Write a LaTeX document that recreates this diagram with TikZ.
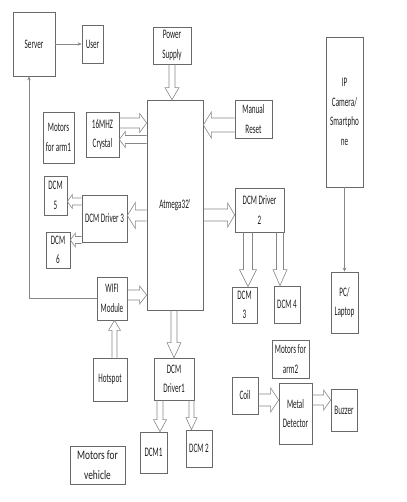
\documentclass[tikz,border=0pt]{standalone}
\usepackage{fontspec}
\setmainfont[FakeStretch=0.55]{Carlito}
\newfontfamily\widefont[FakeStretch=0.72]{Carlito}
\usetikzlibrary{calc,arrows.meta}
\definecolor{bdboxline}{RGB}{105,105,105}
\definecolor{bdarrow}{RGB}{135,135,135}
\definecolor{bdtext}{RGB}{30,30,30}
\tikzset{
  box/.style={
    draw=bdboxline, line width=0.7pt, align=center, inner sep=0pt,
    text=bdtext, font=\fontsize{13pt}{19.5pt}\selectfont
  },
  ar/.style={-{Stealth[length=4pt,width=3.5pt]}, draw=bdarrow, line width=0.6pt},
  % hollow block arrow: shaft half width, head half width, head length
  fat/.style n args={3}{
    draw=bdarrow, line width=0.6pt,
    to path={let \p1=(\tikztostart), \p2=(\tikztotarget),
      \n1={atan2(\y2-\y1,\x2-\x1)}, \n2={veclen(\x2-\x1,\y2-\y1)} in
      [shift={(\p1)}, rotate=\n1]
      (0pt,#1) -- ({\n2*1pt-#3},#1) -- ({\n2*1pt-#3},#2) -- ({\n2*1pt},0pt)
      -- ({\n2*1pt-#3},-#2) -- ({\n2*1pt-#3},-#1) -- (0pt,-#1)}
  },
}
\begin{document}
\begin{tikzpicture}[x=1pt,y=-1pt]
  \useasboundingbox (0,0) rectangle (406,502);

  % ===== top row =====
  \node[box, minimum width=42pt, minimum height=64pt] (server) at (34,44) {Server};
  \node[box, minimum width=21pt, minimum height=38pt] (user) at (92.5,44) {User};
  \node[box, minimum width=38pt, minimum height=37pt] (pwr) at (172,45.5) {Power\\Supply};
  \node[box, minimum width=37pt, minimum height=150pt] (cam) at (344.5,112) {IP\\Camera/\\Smartpho\\ne};

  % ===== controller and its inputs =====
  \node[box, minimum width=56pt, minimum height=210pt] (mcu) at (175,205) {Atmega32'};
  \node[box, minimum width=31pt, minimum height=51pt] (arm1) at (58.5,137.5) {Motors\\for arm1};
  \node[box, minimum width=33pt, minimum height=45pt] (xtal) at (102.5,134.5) {16MHZ\\Crystal};
  \node[box, minimum width=37pt, minimum height=38pt] (reset) at (253.5,119) {Manual\\Reset};

  % ===== driver 3 on the left =====
  \node[box, minimum width=23pt, minimum height=39pt] (dcm5) at (55.5,195.5) {DCM\\5};
  \node[box, minimum width=45pt, minimum height=47pt] (drv3) at (104.5,218.5) {DCM Driver 3};
  \node[box, minimum width=24pt, minimum height=36pt] (dcm6) at (58,250) {DCM\\6};
  \node[box, minimum width=30pt, minimum height=43pt] (wifi) at (112,298.5) {WIFI\\Module};
  \node[box, minimum width=34pt, minimum height=43pt] (hotspot) at (110,379.5) {Hotspot};

  % ===== driver 2 on the right =====
  \node[box, minimum width=49pt, minimum height=44pt] (drv2) at (259.5,210) {DCM Driver\\2};
  \node[box, minimum width=25pt, minimum height=36pt] (dcm3) at (244.5,305) {DCM\\3};
  \node[box, minimum width=26pt, minimum height=37pt] (dcm4) at (287,304.5) {DCM 4};
  \node[box, minimum width=27pt, minimum height=61pt] (pc) at (344.5,302.5) {PC/\\Laptop};

  % ===== driver 1 below =====
  \node[box, minimum width=40pt, minimum height=42pt] (drv1) at (174,379) {DCM\\Driver1};
  \node[box, minimum width=27pt, minimum height=41pt] (dcm1) at (153.5,452.5) {DCM1};
  \node[box, minimum width=26pt, minimum height=37pt] (dcm2) at (199,448.5) {DCM 2};
  \node[box, minimum width=55pt, minimum height=38pt, font=\widefont\fontsize{13pt}{19.5pt}\selectfont] (vehicle) at (97.5,465) {Motors for\\vehicle};

  % ===== metal detector group =====
  \node[box, minimum width=37pt, minimum height=38pt] (arm2) at (290.5,359) {Motors for\\arm2};
  \node[box, minimum width=26pt, minimum height=37pt] (coil) at (245,395.5) {Coil};
  \node[box, minimum width=33pt, minimum height=61pt] (metal) at (295.5,413.5) {Metal\\Detector};
  \node[box, minimum width=26pt, minimum height=42pt] (buzzer) at (344,410) {Buzzer};

  % ===== thin connectors =====
  \draw[ar] (server.east) -- (user.west);
  \draw[ar] (wifi.west) -| ([xshift=-5pt]server.south);
  \draw[ar] (cam.south) -- (pc.north);

  % ===== block arrows =====
  \coordinate (x1) at ([yshift=11.5pt]xtal.east);
  \coordinate (x2) at ([yshift=-5pt]xtal.east);
  \coordinate (r1) at ([yshift=-6pt]reset.west);
  \coordinate (d3) at ([yshift=3pt]drv3.east);
  \coordinate (d5) at ([yshift=-6pt]dcm5.east);
  \coordinate (d6) at ([yshift=10pt]dcm6.east);
  \coordinate (w1) at ([yshift=3.5pt]wifi.east);
  \coordinate (d2) at ([yshift=-5pt]drv2.west);
  \coordinate (c3) at ([xshift=3.5pt]dcm3.north);
  \coordinate (c4) at ([xshift=-7pt]dcm4.north);
  \coordinate (hs) at ([xshift=4.5pt]hotspot.north);
  \coordinate (c1) at ([xshift=6.5pt]dcm1.north);
  \coordinate (c2) at ([xshift=-7.5pt]dcm2.north);
  \coordinate (k1) at ([yshift=-4.5pt]coil.east);
  \coordinate (b1) at ([yshift=10pt]buzzer.west);

  \draw[fat={3pt}{7pt}{12pt}] (pwr.south) to (pwr.south |- mcu.north);
  \draw[fat={5pt}{9.5pt}{7pt}] (x1) to (x1 -| mcu.west);
  \draw[fat={4pt}{8pt}{6pt}] (x2 -| mcu.west) to (x2);
  \draw[fat={7pt}{13pt}{8pt}] (r1) to (r1 -| mcu.east);
  \draw[fat={5.5pt}{13pt}{8pt}] (d3 -| mcu.west) to (d3);
  \draw[fat={3.5pt}{7pt}{5pt}] (d5 -| drv3.west) to (d5);
  \draw[fat={3.5pt}{7pt}{5pt}] (d6 -| drv3.west) to (d6);
  \draw[fat={5pt}{9pt}{7pt}] (w1) to (w1 -| mcu.west);
  \draw[fat={6pt}{12pt}{7pt}] (d2 -| mcu.east) to (d2);
  \draw[fat={4.5pt}{8.5pt}{17pt}] (c3 |- drv2.south) to (c3);
  \draw[fat={3.5pt}{7pt}{16pt}] (c4 |- drv2.south) to (c4);
  \draw[fat={3pt}{7pt}{15pt}] (drv1.north |- mcu.south) to (drv1.north);
  \draw[fat={2.5pt}{6pt}{10pt}] (hs) to (hs |- wifi.south);
  \draw[fat={3pt}{6.5pt}{12pt}] (c1 |- drv1.south) to (c1);
  \draw[fat={2.5pt}{5.5pt}{12pt}] (c2 |- drv1.south) to (c2);
  \draw[fat={6pt}{12pt}{8pt}] (k1) to (k1 -| metal.west);
  \draw[fat={5pt}{10pt}{7pt}] (b1 -| metal.east) to (b1);

\end{tikzpicture}
\end{document}
